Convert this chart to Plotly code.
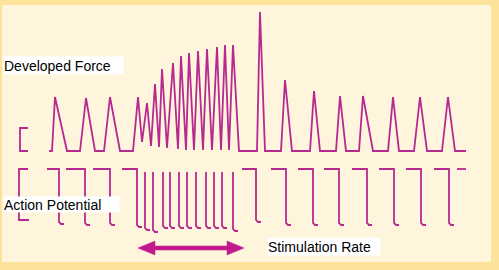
import plotly.graph_objects as go

# ---------------- data ----------------
# Developed force trace: time (a.u.) and force above baseline (a.u.)
force_t = [49, 52, 55, 67, 80, 86, 95, 104, 110, 120, 133,
           138, 142, 147, 151, 155, 159, 162, 167, 173, 178, 181, 186, 189, 194,
           198, 203, 207, 212, 217, 221, 225, 229, 233, 239,
           257, 260, 265, 281, 285, 292, 310, 314, 320, 336, 340, 346,
           359, 363, 373, 388, 393, 399, 414, 420, 427, 442, 448, 455, 466]
force_v = [0, 0, 54, 0, 0, 53, 0, 0, 54, 0, 0,
           54, 9, 48, 5, 67, 4, 82, 3, 88, 2, 95, 1, 98, 1,
           100, 1, 102, 1, 104, 1, 106, 1, 106, 0,
           0, 139, 0, 0, 71, 0, 0, 60, 0, 0, 55, 0,
           0, 55, 0, 0, 54, 0, 0, 54, 0, 0, 54, 0, 0]
# calibration bracket for force
force_cal_t = [28, 20, 20, 28]
force_cal_v = [23, 23, 0, 0]

# Action potentials: spike times, start of preceding resting line, spike depth
ap_spike_t = [59, 85, 110, 137, 145, 153, 163, 170, 179, 187, 196, 206, 214,
              222, 233, 256, 286, 313, 339, 367, 394, 421, 449]
ap_rest_from = [47, 66, 93, 122, None, None, None, None, None, None, None, None,
                None, None, None, 242, 271, 298, 324, 352, 379, 406, 434]
ap_depth = [55, 56, 56, 58, 61, 63, 59, 59, 59, 59, 59, 59, 59,
            59, 62, 53, 56, 56, 56, 56, 56, 56, 56]
ap_tail_t = [457, 466]
ap_cal_t = [28, 19, 19, 29]
ap_cal_v = [0, 0, -51, -51]

# stimulation-rate arrow span
arrow_t = [138, 244]
arrow_level = -79

LINE = "#B62A8F"
ARROW = "#C2188B"
BORDER = "#FDE29A"
CREAM = "#FEF5DC"

# ---------------- build polylines ----------------
ap_x, ap_y = [], []
for t, r, d in zip(ap_spike_t, ap_rest_from, ap_depth):
    if r is not None:
        ap_x += [r, t]
        ap_y += [0, 0]
    else:
        ap_x += [t]
        ap_y += [-3]
    ap_x += [t, t + 2, t + 5, None]
    ap_y += [-(d - 2), -d, -d, None]
ap_x += ap_tail_t + [None] + ap_cal_t
ap_y += [0, 0, None] + ap_cal_v

fig = go.Figure()
fig.add_trace(go.Scatter(x=force_t + [None] + force_cal_t,
                         y=force_v + [None] + force_cal_v,
                         mode="lines", line=dict(color=LINE, width=1.8),
                         hoverinfo="skip", connectgaps=False))
fig.add_trace(go.Scatter(x=ap_x, y=ap_y, yaxis="y2", mode="lines",
                         line=dict(color=LINE, width=1.8),
                         hoverinfo="skip", connectgaps=False))

# double-headed arrow polygon
a0, a1 = arrow_t
L, hh, sh = 17, 7, 2
ax = [a0, a0 + L, a0 + L, a1 - L, a1 - L, a1, a1 - L, a1 - L, a0 + L, a0 + L, a0]
ay = [arrow_level, arrow_level + hh, arrow_level + sh, arrow_level + sh,
      arrow_level + hh, arrow_level, arrow_level - hh, arrow_level - sh,
      arrow_level - sh, arrow_level - hh, arrow_level]
fig.add_trace(go.Scatter(x=ax, y=ay, yaxis="y2", mode="lines", fill="toself",
                         fillcolor=ARROW, line=dict(color=ARROW, width=0.5),
                         hoverinfo="skip"))

font = dict(family="Liberation Sans, Arial, sans-serif", size=14, color="black")
labels = [
    ("Developed Force", 3, 85.5, "y", 119, 17),
    ("Action Potential", 3, -35.5, "y2", 115, 15),
    ("Stimulation Rate", 267, -77.5, "y2", 112, 17),
]
for txt, x, y, yref, w, h in labels:
    fig.add_annotation(text=txt, x=x, y=y, xref="x", yref=yref, showarrow=False,
                       xanchor="left", yanchor="middle", align="left",
                       width=w, height=h, bgcolor="white", borderpad=0,
                       font=font)

fig.update_layout(
    width=499, height=270,
    margin=dict(l=2, r=8, t=5, b=8, autoexpand=False),
    paper_bgcolor=BORDER, plot_bgcolor=CREAM,
    showlegend=False,
    xaxis=dict(range=[2, 491], visible=False, fixedrange=True),
    yaxis=dict(range=[-111, 146], visible=False, fixedrange=True),
    yaxis2=dict(range=[-93, 164], visible=False, overlaying="y", fixedrange=True),
)

fig.write_html("out.html")
